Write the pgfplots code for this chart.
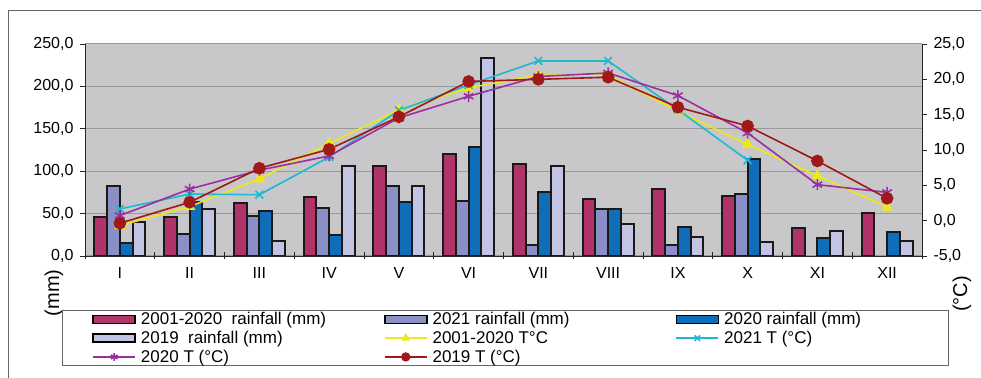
\documentclass[border=0pt]{standalone}
\usepackage{fontspec}
\setmainfont{Liberation Sans}
\usepackage{pgfplots}
\pgfplotsset{compat=1.18}
\definecolor{cA}{HTML}{B0336A}
\definecolor{cB}{HTML}{8A8FC6}
\definecolor{cC}{HTML}{106EB8}
\definecolor{cD}{HTML}{C3C3E3}
\definecolor{tY}{HTML}{EEE81A}
\definecolor{tC}{HTML}{1EB8D0}
\definecolor{tP}{HTML}{9A2FA0}
\definecolor{tR}{HTML}{A01818}
\definecolor{bg}{HTML}{C8C8CA}
\definecolor{gridc}{HTML}{9A9A9A}
\pgfplotsset{
  barleg/.style={legend image code/.code={\draw[##1,line width=1.6pt] (0pt,-4pt) rectangle (42pt,4pt);}},
  lineleg/.style={legend image code/.code={\draw[mark repeat=2,mark phase=2,##1,mark options={scale=0.7}] plot coordinates {(0pt,0pt) (21pt,0pt) (42pt,0pt)};}},
  common/.style={
    scale only axis, width=837pt, height=212pt,
    at={(85pt,121pt)}, anchor=south west,
    xmin=-0.5, xmax=11.5,
    tick label style={font=\fontsize{16}{18}\selectfont},
    /pgf/number format/.cd, fixed, fixed zerofill, precision=1, use comma, assume math mode=true,
  },
  rbar/.style={draw=black!90, line width=2pt, fill=#1},
}
\begin{document}
\begin{tikzpicture}[x=1pt,y=1pt]
\useasboundingbox (0,0) rectangle (981,377);
\draw[gray!80!black, line width=0.8pt] (8,-20) -- (8,367) -- (1000,367);
\begin{axis}[common,
  ymin=0, ymax=250, ytick={0,50,...,250},
  axis x line*=bottom, axis y line*=left,
  axis background/.style={fill=bg},
  ymajorgrids, grid style={gridc, line width=1pt},
  axis line style={black!85, line width=0.9pt},
  xtick={0,...,11}, xticklabels={I,II,III,IV,V,VI,VII,VIII,IX,X,XI,XII},
  xticklabel style={yshift=-3pt},
  major x tick style={draw=none},
  minor xtick={-0.5,0.5,...,11.5},
  minor tick length=7pt,
  minor x tick style={black!85, line width=0.8pt, yshift=3.5pt},
  major tick length=5pt, tick align=outside,
  ytick style={black!85, line width=0.8pt},
  yticklabel style={xshift=-3pt},
  ylabel={(mm)}, ylabel style={font=\fontsize{20}{22}\selectfont, at={(axis description cs:-0.037,-0.1745)}, anchor=center, rotate=0},
  ybar=0pt, bar width=12.7pt,
]
\addplot[rbar=cA] coordinates {(0,45.7) (1,46.5) (2,62.9) (3,69.5) (4,106) (5,120) (6,108) (7,67) (8,79.3) (9,71) (10,33.6) (11,51.2)};
\addplot[rbar=cB] coordinates {(0,82.8) (1,26.2) (2,47.7) (3,56.6) (4,82.4) (5,64.5) (6,12.5) (7,55.5) (8,12.5) (9,73)};
\addplot[rbar=cC] coordinates {(0,15.6) (1,64) (2,53.5) (3,24.2) (4,63.7) (5,128.5) (6,75) (7,56) (8,34) (9,114) (10,20.7) (11,28)};
\addplot[rbar=cD] coordinates {(0,40.6) (1,55.5) (2,17.2) (3,106) (4,82.4) (5,233) (6,106) (7,38) (8,22.3) (9,16.8) (10,30) (11,17.6)};
\end{axis}
\begin{axis}[common,
  ymin=-5, ymax=25, ytick={-5,0,...,25},
  axis y line*=right, axis x line=none,
  axis line style={black!85, line width=0.9pt},
  major tick length=5pt, tick align=outside,
  ytick style={black!85, line width=0.8pt},
  yticklabel style={xshift=3pt},
  ylabel={(°C)}, ylabel style={font=\fontsize{20}{22}\selectfont, at={(axis description cs:1.0478,-0.179)}, anchor=center, rotate=0},
  legend columns=3,
  legend style={at={(-0.0275,-0.2547)}, anchor=north west, draw=gray!80!black, line width=0.8pt,
    font=\fontsize{17}{19}\selectfont, inner xsep=30pt, inner ysep=1pt,
    nodes={inner sep=1pt}, row sep=3pt, column sep=0pt},
  legend cell align=left,
]
\addlegendimage{barleg, fill=cA, draw=black}\addlegendentry{\hspace*{4pt}\makebox[242pt][l]{2001-2020\ \ rainfall (mm)}}
\addlegendimage{barleg, fill=cB, draw=black}\addlegendentry{\hspace*{4pt}\makebox[242pt][l]{2021 rainfall (mm)}}
\addlegendimage{barleg, fill=cC, draw=black}\addlegendentry{\hspace*{4pt}\makebox[193pt][l]{2020 rainfall (mm)}}
\addlegendimage{barleg, fill=cD, draw=black}\addlegendentry{\hspace*{4pt}2019\ \ rainfall (mm)}
\addplot[lineleg, tY, line width=1.6pt, mark=triangle*, mark size=5pt] coordinates {(0,-0.7) (1,2.0) (2,5.9) (3,10.9) (4,15.7) (5,18.8) (6,20.6) (7,20.6) (8,15.5) (9,10.8) (10,6.35) (11,1.9)};
\addlegendentry{\hspace*{4pt}2001-2020 T°C}
\addplot[lineleg, tC, line width=1.6pt, mark=x, mark size=5.5pt] coordinates {(0,1.66) (1,3.77) (2,3.67) (3,9.0) (4,15.6) (5,19.2) (6,22.6) (7,22.6) (8,15.7) (9,8.55)};
\addlegendentry{\hspace*{4pt}2021 T (°C)}
\addplot[lineleg, tP, line width=1.6pt, mark=asterisk, mark size=5.5pt] coordinates {(0,0.72) (1,4.47) (2,7.14) (3,9.16) (4,14.55) (5,17.6) (6,20.4) (7,20.9) (8,17.7) (9,12.4) (10,5.1) (11,4.0)};
\addlegendentry{\hspace*{4pt}2020 T (°C)}
\addplot[lineleg, tR, line width=1.6pt, mark=*, mark size=5.5pt] coordinates {(0,-0.36) (1,2.6) (2,7.42) (3,10.1) (4,14.7) (5,19.7) (6,20.0) (7,20.3) (8,16.05) (9,13.4) (10,8.45) (11,3.16)};
\addlegendentry{\hspace*{4pt}2019 T (°C)}
\end{axis}
\end{tikzpicture}
\end{document}
